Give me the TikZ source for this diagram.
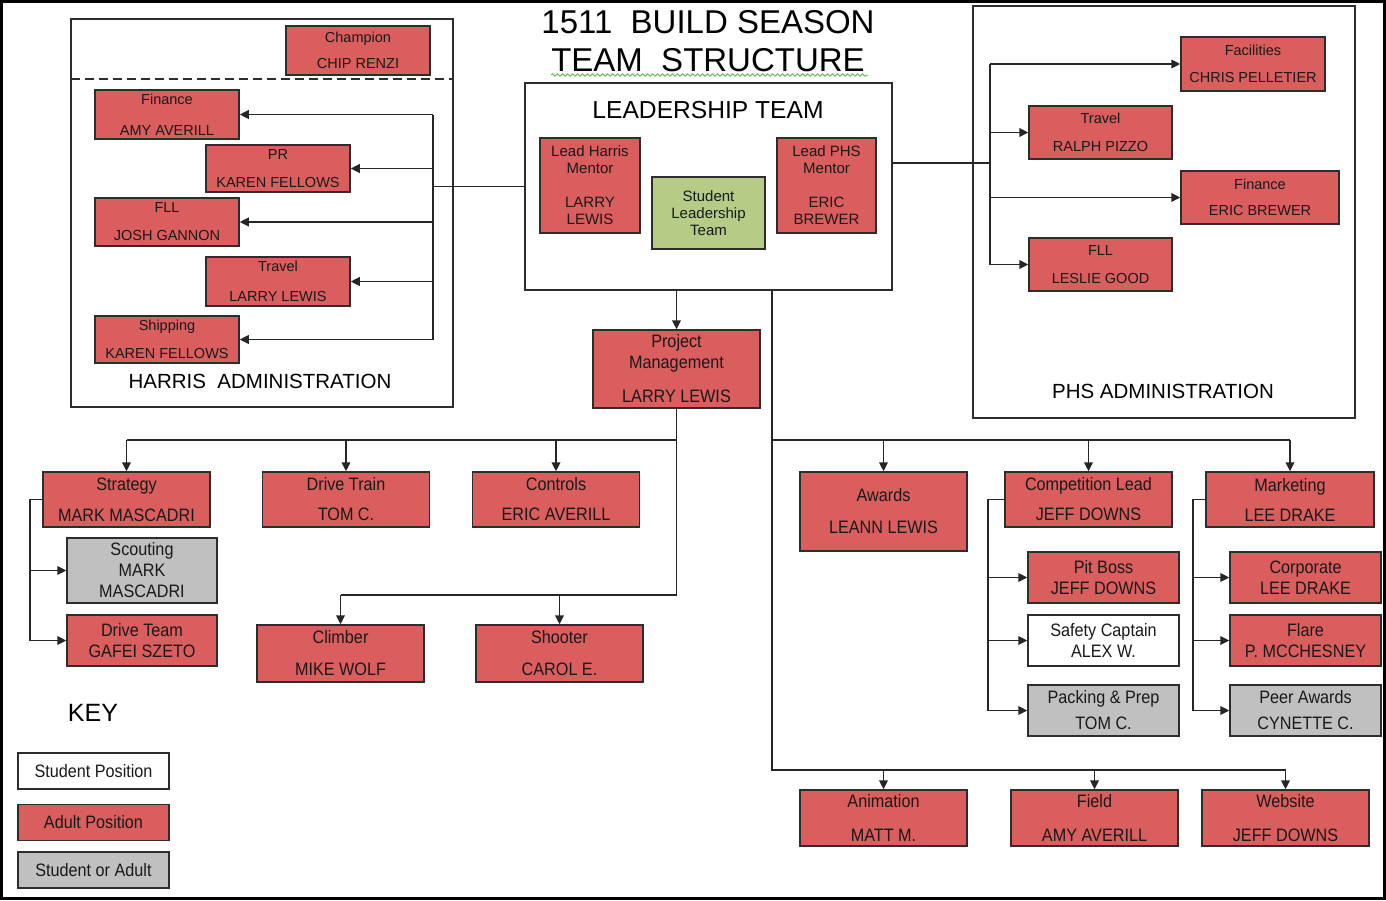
\documentclass[tikz,border=0pt]{standalone}
\usepackage{fontspec}
\setmainfont{Liberation Sans}
\newfontfamily\nsf[FakeStretch=0.9]{Liberation Sans}
\usepackage{tikz}
\usetikzlibrary{arrows.meta, decorations.pathmorphing}
\definecolor{boxred}{RGB}{218,94,94}
\definecolor{boxgreen}{RGB}{181,203,134}
\definecolor{boxgray}{RGB}{192,192,192}
\definecolor{edgec}{RGB}{45,45,45}
\newcommand\admfont{\fontsize{7.25}{8.7}\selectfont}
\newcommand\ledfont{\fontsize{7.5}{8.5}\selectfont}
\newcommand\midfont{\nsf\fontsize{9}{10.5}\selectfont}
\newcommand\grpfont{\fontsize{10.25}{12}\selectfont}

\begin{document}
\begin{tikzpicture}[x=0.5pt, y=-0.5pt,
  box/.style={draw=edgec, line width=0.75pt, inner sep=0pt, align=center, text=black!90},
  adult/.style={box, fill=boxred},
  student/.style={box, fill=white},
  either/.style={box, fill=boxgray},
  team/.style={box, fill=boxgreen},
  group/.style={draw=edgec, line width=0.75pt, inner sep=0pt},
  adm/.style={adult, font=\admfont, minimum width=72pt},
  sub/.style={adult, font=\midfont, minimum width=83.5pt, minimum height=27.5pt},
  leaf/.style={box, font=\midfont, minimum width=75.5pt, minimum height=25.5pt},
  keybox/.style={box, font=\midfont, minimum width=75.5pt, minimum height=18pt},
  conn/.style={draw=black!85, line width=0.75pt},
  arr/.style={conn, -{Triangle[length=4.5pt,width=4.4pt]}}]
\useasboundingbox (0,0) rectangle (1386,900);
\draw[line width=1.5pt] (1.5,1.5) rectangle (1384.5,898.5);

% title
\node[font=\fontsize{16.5}{19}\selectfont, align=center] (title) at (708,41) {1511\ \ BUILD SEASON\\TEAM\ \ STRUCTURE};
\draw[draw={rgb,255:red,110;green,190;blue,90}, line width=0.5pt, decorate, decoration={snake, amplitude=0.6pt, segment length=2.5pt}] (551,75) -- (868,75);

% harris administration
\node[group, minimum width=191pt, minimum height=194pt] (harris) at (262,213) {};
\coordinate (hdash) at (71,79);
\draw[draw=edgec, line width=0.75pt, dash pattern=on 4.5pt off 2.5pt] (hdash) -- (hdash -| harris.east);
\node[font=\grpfont] (htitle) at (260,381) {HARRIS\ \ ADMINISTRATION};
\node[adm, minimum height=24.5pt] (hchamp) at (358,50.5) {Champion\\[4.3pt]CHIP RENZI};
\node[adm, minimum height=24.5pt] (hfin) at (167,114.5) {Finance\\[6.8pt]AMY AVERILL};
\node[adm, minimum height=23.5pt] (hpr) at (278,168.5) {PR\\[5.3pt]KAREN FELLOWS};
\node[adm, minimum height=24pt] (hfll) at (167,222) {FLL\\[5.3pt]JOSH GANNON};
\node[adm, minimum height=24.5pt] (htrav) at (278,281.5) {Travel\\[6.3pt]LARRY LEWIS};
\node[adm, minimum height=23.5pt] (hship) at (167,339.5) {Shipping\\[5.3pt]KAREN FELLOWS};

% leadership team
\node[group, minimum width=183.5pt, minimum height=103.5pt] (lead) at (708.5,186.5) {};
\node[font=\fontsize{12.3}{14}\selectfont] (ltitle) at (708,110) {LEADERSHIP TEAM};
\node[adult, font=\ledfont, minimum width=50pt, minimum height=47.5pt] (lharris) at (590,185.5) {Lead Harris\\Mentor\\[8.5pt]LARRY\\LEWIS};
\node[team, font=\ledfont, minimum width=56.5pt, minimum height=36pt] (slt) at (708.5,213) {Student\\Leadership\\Team};
\node[adult, font=\ledfont, minimum width=49.5pt, minimum height=47.5pt] (lphs) at (826.5,185.5) {Lead PHS\\Mentor\\[8.5pt]ERIC\\BREWER};

% phs administration
\node[group, minimum width=191pt, minimum height=206pt] (phs) at (1164,212) {};
\node[font=\grpfont] (ptitle) at (1163,391) {PHS ADMINISTRATION};
\node[adm, minimum height=27pt] (pfac) at (1253,64) {Facilities\\[4.8pt]CHRIS PELLETIER};
\node[adm, minimum width=71.5pt, minimum height=26.5pt] (ptrav) at (1100.5,132.5) {Travel\\[5.3pt]RALPH PIZZO};
\node[adm, minimum width=79pt, minimum height=26.5pt] (pfin) at (1260,197.5) {Finance\\[4.3pt]ERIC BREWER};
\node[adm, minimum width=71.5pt, minimum height=26.5pt] (pfll) at (1100.5,264.5) {FLL\\[5.3pt]LESLIE GOOD};

% project management and sub teams
\node[adult, font=\midfont, minimum width=83.5pt, minimum height=39pt] (pm) at (676.5,369) {Project\\Management\\[6.5pt]LARRY LEWIS};
\node[sub] (strat) at (126.5,499.5) {Strategy\\[5pt]MARK MASCADRI};
\node[sub] (dtrain) at (346,499.5) {Drive Train\\[4.5pt]TOM C.};
\node[sub] (ctrl) at (556,499.5) {Controls\\[4.5pt]ERIC AVERILL};
\node[either, font=\midfont, minimum width=75pt, minimum height=32.5pt] (scout) at (142,570.5) {Scouting\\MARK\\MASCADRI};
\node[adult, font=\midfont, minimum width=75pt, minimum height=25.5pt] (dteam) at (142,640.5) {Drive Team\\GAFEI SZETO};
\node[sub, minimum height=28.5pt] (climb) at (340.5,653.5) {Climber\\[5.5pt]MIKE WOLF};
\node[sub, minimum height=28.5pt] (shoot) at (559.5,653.5) {Shooter\\[5.5pt]CAROL E.};

\node[sub, minimum height=39.5pt] (awards) at (883.5,511.5) {Awards\\[5.5pt]LEANN LEWIS};
\node[sub] (comp) at (1088.5,499.5) {Competition Lead\\[4.5pt]JEFF DOWNS};
\node[sub, minimum width=84pt] (mkt) at (1290,499.5) {Marketing\\[4.5pt]LEE DRAKE};
\node[leaf, adult] (pit) at (1103.5,577.5) {Pit Boss\\JEFF DOWNS};
\node[leaf, student] (safe) at (1103.5,640.5) {Safety Captain\\ALEX W.};
\node[leaf, either] (pack) at (1103.5,710.5) {Packing \& Prep\\[2.5pt]TOM C.};
\node[leaf, adult] (corp) at (1305.5,577.5) {Corporate\\LEE DRAKE};
\node[leaf, adult] (flare) at (1305.5,640.5) {Flare\\P. MCCHESNEY};
\node[leaf, either] (peer) at (1305.5,710.5) {Peer Awards\\[2.5pt]CYNETTE C.};
\node[sub, minimum height=28pt] (anim) at (883.5,818) {Animation\\[6.5pt]MATT M.};
\node[sub, minimum height=28pt] (field) at (1094.5,818) {Field\\[6.5pt]AMY AVERILL};
\node[sub, minimum height=28pt] (web) at (1285.5,818) {Website\\[6.5pt]JEFF DOWNS};

% key
\node[font=\fontsize{12.5}{14}\selectfont] (key) at (93,713) {KEY};
\node[keybox, student] (kstu) at (93.5,771) {Student Position};
\node[keybox, adult] (kadu) at (93.5,822.5) {Adult Position};
\node[keybox, either] (kboth) at (93.5,870) {Student or Adult};

% harris connectors
\coordinate (hbus) at (433,186.5);
\draw[conn] (lead.west) -- (hbus);
\draw[conn] (hbus |- hfin.east) -- (hbus |- hship.east);
\foreach \n in {hfin,hpr,hfll,htrav,hship} \draw[arr] (hbus |- \n.east) -- (\n.east);

% phs connectors
\coordinate (pbus) at (990,163);
\draw[conn] (pbus -| lead.east) -- (pbus);
\draw[conn] (pbus |- pfac.west) -- (pbus |- pfll.west);
\foreach \n in {pfac,ptrav,pfin,pfll} \draw[arr] (pbus |- \n.west) -- (\n.west);

% left side
\draw[arr] (pm.north |- lead.south) -- (pm.north);
\coordinate (lbus) at (676.5,440);
\coordinate (cbus) at (676.5,595);
\draw[conn] (pm.south) -- (cbus) -- (cbus -| climb.north);
\draw[conn] (lbus) -- (lbus -| strat.north);
\foreach \n in {strat,dtrain,ctrl} \draw[arr] (lbus -| \n.north) -- (\n.north);
\foreach \n in {climb,shoot} \draw[arr] (cbus -| \n.north) -- (\n.north);
\coordinate (sbus) at (30,499.5);
\draw[conn] (strat.west) -- (sbus) -- (sbus |- dteam.west);
\foreach \n in {scout,dteam} \draw[arr] (sbus |- \n.west) -- (\n.west);

% right side
\coordinate (rbus) at (772,440);
\coordinate (bbus) at (772,770);
\draw[conn] (rbus |- lead.south) -- (bbus) -- (bbus -| web.north);
\draw[conn] (rbus) -- (rbus -| mkt.north);
\foreach \n in {awards,comp,mkt} \draw[arr] (rbus -| \n.north) -- (\n.north);
\foreach \n in {anim,field,web} \draw[arr] (bbus -| \n.north) -- (\n.north);
\coordinate (cpbus) at (988,499.5);
\draw[conn] (comp.west) -- (cpbus) -- (cpbus |- pack.west);
\foreach \n in {pit,safe,pack} \draw[arr] (cpbus |- \n.west) -- (\n.west);
\coordinate (mkbus) at (1193,499.5);
\draw[conn] (mkt.west) -- (mkbus) -- (mkbus |- peer.west);
\foreach \n in {corp,flare,peer} \draw[arr] (mkbus |- \n.west) -- (\n.west);
\end{tikzpicture}
\end{document}
